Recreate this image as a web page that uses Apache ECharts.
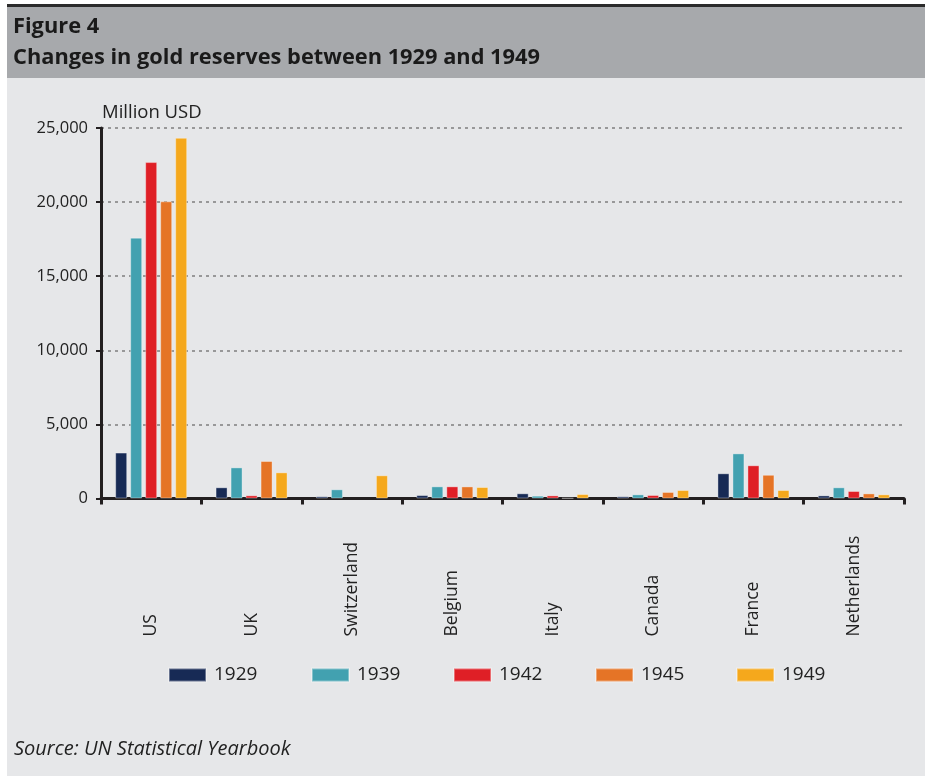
<!DOCTYPE html>
<html>
<head>
<meta charset="utf-8">
<script src="https://cdn.jsdelivr.net/npm/echarts@6/dist/echarts.min.js"></script>
<style>
html,body{margin:0;padding:0;background:#ffffff;}
#chart{width:925px;height:776px;}
</style>
</head>
<body>
<div id="chart"></div>
<script>
const countries = ['US','UK','Switzerland','Belgium','Italy','Canada','France','Netherlands'];
const years = ['1929','1939','1942','1945','1949'];
const v1929 = [3100, 755, 150, 230, 350, 150, 1700, 210];
const v1939 = [17600, 2100, 620, 820, 190, 280, 3045, 755];
const v1942 = [22700, 215, null, 820, 210, 235, 2240, 505];
const v1945 = [20050, 2530, null, 815, 30, 440, 1600, 345];
const v1949 = [24340, 1765, 1565, 775, 300, 570, 570, 280];
const yTicks = [0, 5000, 10000, 15000, 20000, 25000];
const colors = ['#172a55','#42a1b0','#df1f26','#e57426','#f5a81c'];
const seriesValues = [v1929, v1939, v1942, v1945, v1949];

const FONT = '"Open Sans"';
const chart = echarts.init(document.getElementById('chart'), null, {renderer:'canvas'});

const legendLefts = [168, 311, 453, 595, 736];

const option = {
  backgroundColor: '#ffffff',
  animation: false,
  graphic: [
    {type:'rect', left:7, top:0, shape:{x:0,y:0,width:918,height:776}, style:{fill:'#e6e7e9'}, z:-10, silent:true},
    {type:'rect', left:7, top:4, shape:{x:0,y:0,width:918,height:74}, style:{fill:'#a7a9ac'}, z:-9, silent:true},
    {type:'rect', left:7, top:4, shape:{x:0,y:0,width:918,height:3}, style:{fill:'#2b2b2b'}, z:-8, silent:true},
    {type:'rect', left:0, top:0, shape:{x:0,y:0,width:925,height:4}, style:{fill:'#ffffff'}, z:-7, silent:true},
    {type:'text', left:14, top:739, style:{text:'Source: UN Statistical Yearbook', font:'italic 20px ' + FONT, fill:'#222222'}, silent:true}
  ],
  title: {
    text: 'Figure 4\nChanges in gold reserves between 1929 and 1949',
    left: 13, top: 11,
    padding: 0,
    textStyle: {fontFamily: FONT, fontWeight: 'bold', fontSize: 21.8, lineHeight: 31, color: '#1a1a1a'}
  },
  legend: years.map((y, i) => ({
    data: [y],
    left: legendLefts[i], top: 663,
    padding: 0,
    itemWidth: 37, itemHeight: 13, itemGap: 0,
    icon: 'rect',
    textStyle: {fontFamily: FONT, fontSize: 19, lineHeight: 24, color: '#222222', padding:[0,0,0,3]},
    selectedMode: false
  })),
  grid: {left: 101, right: 21, top: 128, bottom: 277.5, containLabel: false},
  xAxis: {
    type: 'category',
    data: countries,
    axisLine: {lineStyle: {color: '#231f20', width: 3}},
    axisTick: {show: true, alignWithLabel: false, interval: 0, length: 6, lineStyle: {color:'#231f20', width: 3}},
    axisLabel: {interval: 0, rotate: 90, align: 'left', verticalAlign: 'middle', margin: 138,
      fontFamily: FONT, fontSize: 17.5, color: '#222222'},
    splitLine: {show: false}
  },
  yAxis: {
    type: 'value',
    min: yTicks[0], max: yTicks[yTicks.length-1], interval: 5000,
    name: 'Million USD',
    nameLocation: 'end',
    nameGap: 6,
    nameTextStyle: {fontFamily: FONT, fontSize: 18.5, color: '#222222', align: 'left', padding:[0,0,0,1]},
    axisLine: {show: true, lineStyle: {color: '#231f20', width: 3}},
    axisTick: {show: true, length: 5, lineStyle: {color: '#231f20', width: 2}},
    axisLabel: {margin: 13, fontFamily: FONT, fontSize: 16.5, color: '#222222',
      formatter: v => v.toLocaleString('en-US')},
    splitLine: {show: true, lineStyle: {color: '#7f7f7f', width: 1.5, type: [3, 4]}}
  },
  series: years.map((y, i) => ({
    name: y,
    type: 'bar',
    data: seriesValues[i],
    barWidth: 12,
    barGap: '25%',
    itemStyle: {color: colors[i], borderColor: 'rgba(255,255,255,0.35)', borderWidth: 1},
    emphasis: {disabled: true}
  }))
};
chart.setOption(option);
</script>
</body>
</html>
